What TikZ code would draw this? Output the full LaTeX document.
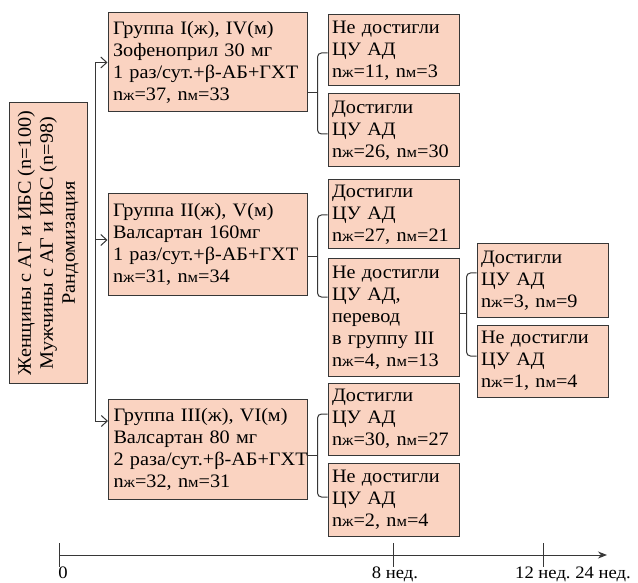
\documentclass[tikz,border=0pt]{standalone}
\usepackage{fontspec}
\setmainfont{Liberation Serif}[FakeStretch=1.065]
\usetikzlibrary{arrows.meta}
\definecolor{boxfill}{RGB}{250,211,193}
\definecolor{edgec}{RGB}{55,55,55}
\newcommand\nzh{n{\fontsize{15.5}{15.5}\selectfont ж}}
\newcommand\nmu{n{\fontsize{15.5}{15.5}\selectfont м}}
\newcommand\brc[6]{%
  \coordinate (bx) at ([xshift=-10pt]#2.west);
  \draw[conn, rounded corners=4pt] (#2.west |- 0,#4) -- (bx |- 0,#4) -- (bx |- 0,#5) -- (#3.west |- 0,#5);
  \draw[conn] (#1.east |- 0,#6) -- (bx |- 0,#6);}
\begin{document}
\begin{tikzpicture}[x=1pt,y=-1pt,
  font=\rmfamily\fontsize{19}{22}\selectfont,
  box/.style={draw=edgec, line width=1pt, fill=boxfill, inner ysep=0pt},
  gbox/.style={box, text width=189pt, inner xsep=5pt, minimum width=199pt, align=left},
  sbox/.style={box, text width=123pt, inner xsep=4pt, minimum width=131pt, align=left},
  conn/.style={draw=edgec, line width=1pt},
  arr/.style={conn, -{Straight Barb[length=6pt,width=11pt]}},
  axlabel/.style={inner sep=0pt, font=\rmfamily\fontsize{17.5}{20}\selectfont}]
\useasboundingbox (0,0) rectangle (638,583);
% left box
\node[box, rotate=90, minimum width=280pt, minimum height=78pt, align=center, inner sep=0pt] (L) at (48,243)
  {Женщины с АГ и ИБС (n=100)\\Мужчины с АГ и ИБС (n=98)\\Рандомизация};
% groups
\node[gbox, minimum height=99pt] (g1) at (207.5,62.5)
  {Группа I(ж), IV(м)\\Зофеноприл 30 мг\\\mbox{1 раз/сут.+β-АБ+ГХТ}\\\nzh=37, \nmu=33};
\node[gbox, minimum height=101pt] (g2) at (207.5,244.5)
  {Группа II(ж), V(м)\\Валсартан 160мг\\\mbox{1 раз/сут.+β-АБ+ГХТ}\\\nzh=31, \nmu=34};
\node[gbox, minimum height=100pt] (g3) at (208,449)
  {Группа III(ж), VI(м)\\Валсартан 80 мг\\\mbox{2 раза/сут.+β-АБ+ГХТ}\\\nzh=32, \nmu=31};
% outcomes
\node[sbox, minimum height=71pt] (a1) at (393.5,50.5) {Не достигли\\ЦУ АД\\\nzh=11, \nmu=3};
\node[sbox, minimum height=73pt] (a2) at (393.5,130.5) {Достигли\\ЦУ АД\\\nzh=26, \nmu=30};
\node[sbox, minimum height=69pt] (b1) at (393.5,214.5) {Достигли\\ЦУ АД\\\nzh=27, \nmu=21};
\node[sbox, minimum height=117pt] (b2) at (393.5,317.5) {Не достигли\\ЦУ АД,\\перевод\\в группу III\\\nzh=4, \nmu=13};
\node[sbox, minimum height=72pt] (c1) at (393.5,419) {Достигли\\ЦУ АД\\\nzh=30, \nmu=27};
\node[sbox, minimum height=73pt] (c2) at (393.5,499.5) {Не достигли\\ЦУ АД\\\nzh=2, \nmu=4};
\node[sbox, minimum height=73pt] (d1) at (542.5,280.5) {Достигли\\ЦУ АД\\\nzh=3, \nmu=9};
\node[sbox, minimum height=72pt] (d2) at (542.5,361) {Не достигли\\ЦУ АД\\\nzh=1, \nmu=4};
% randomisation arrows
\coordinate (v1) at (95,62.5);
\coordinate (v2) at (95,240);
\coordinate (v3) at (95,421);
\draw[conn] (v1) -- (v3);
\draw[arr] (v1) -- (v1 -| g1.west);
\draw[arr] (v2) -- (v2 -| g2.west);
\draw[arr] (v3) -- (v3 -| g3.west);
% braces
\brc{g1}{a1}{a2}{53}{134}{93}
\brc{g2}{b1}{b2}{215}{297}{257}
\brc{g3}{c1}{c2}{414}{497}{455}
\brc{b2}{d1}{d2}{273}{356}{313}
% time axis
\coordinate (ax0) at (59,555);
\coordinate (ax1) at (607,555);
\draw[conn, -{Stealth[length=9pt,width=7pt]}] (ax0) -- (ax1);
\coordinate (t0a) at (59,543); \coordinate (t0b) at (59,567);
\coordinate (t8a) at (393,543); \coordinate (t8b) at (393,567);
\coordinate (t12a) at (543,543); \coordinate (t12b) at (543,567);
\draw[conn] (t0a) -- (t0b);
\draw[conn] (t8a) -- (t8b);
\draw[conn] (t12a) -- (t12b);
\node[axlabel, anchor=base] (l0) at (63,578) {0};
\node[axlabel, anchor=base] (l8) at (395,578) {8 нед.};
\node[axlabel, anchor=base west] (l12) at (515,578) {12 нед.\ 24 нед.};
\end{tikzpicture}
\end{document}
